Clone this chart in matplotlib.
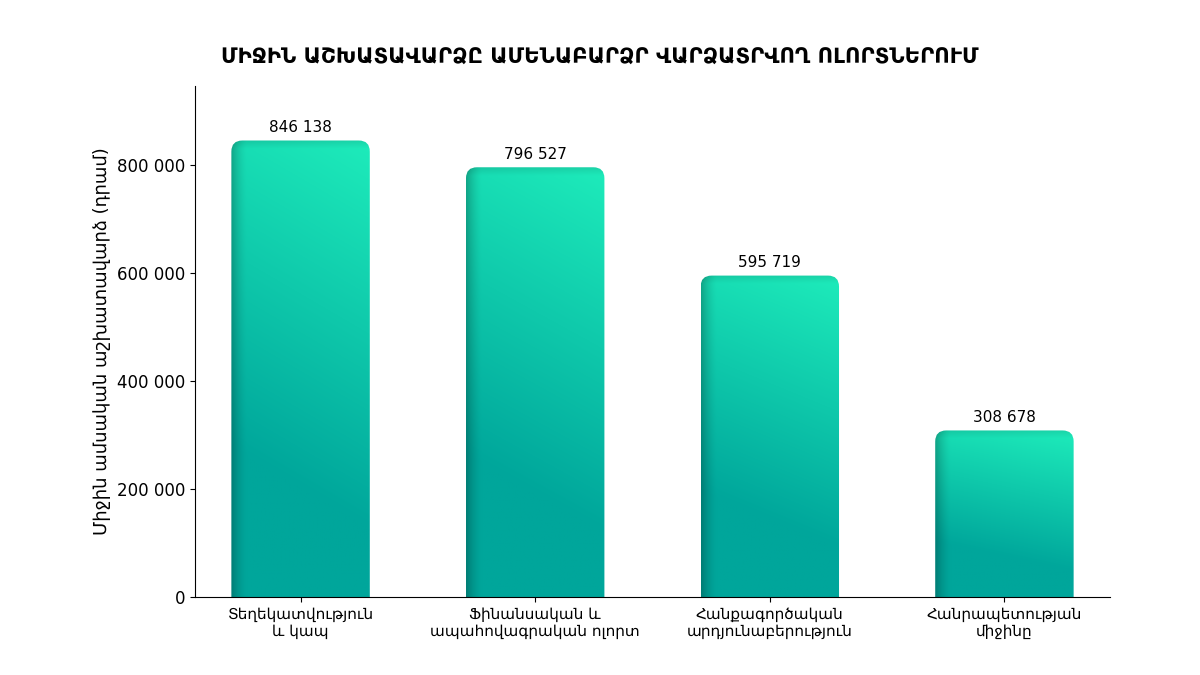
import numpy as np
import matplotlib
matplotlib.use('Agg')
from matplotlib import pyplot as plt
from matplotlib.patches import FancyBboxPatch
from matplotlib.ticker import FuncFormatter


categories = ['Տեղեկատվություն\nև կապ',
              'Ֆինանսական և\nապահովագրական ոլորտ',
              'Հանքագործական\nարդյունաբերություն',
              'Հանրապետության\nմիջինը']
values = [846138, 796527, 595719, 308678]

title = 'ՄԻՋԻՆ ԱՇԽԱՏԱՎԱՐՁԸ ԱՄԵՆԱԲԱՐՁՐ ՎԱՐՁԱՏՐՎՈՂ ՈԼՈՐՏՆԵՐՈՒՄ'
ylabel = 'Միջին ամսական աշխատավարձ (դրամ)'

top_color = np.array([0x1e, 0xec, 0xbb]) / 255.0
bottom_color = np.array([0x00, 0xa6, 0x9b]) / 255.0


def space_fmt(v, pos):
    return f'{int(v):,}'.replace(',', ' ')


def bar_image(h_px, w_px, rows=300, cols=120):
    u = np.linspace(0, 1, cols)[None, :]
    v = np.linspace(1, 0, rows)[:, None]  # row 0 = top
    s = np.clip((v * 0.85 + u * 0.15 - 0.28) / 0.72, 0, 1)
    img = bottom_color[None, None, :] * (1 - s[..., None]) + top_color[None, None, :] * s[..., None]
    # dark left edge
    lx = u * w_px
    left = 1 - 0.24 * np.clip(1 - lx / 16.0, 0, 1) ** 1.6
    # slight dark top edge
    ty = (1 - v) * h_px
    top = 1 - 0.10 * np.clip(1 - ty / 8.0, 0, 1)
    img = img * (left * top)[..., None]
    return np.clip(img, 0, 1)


fig = plt.figure(figsize=(12, 6.75), dpi=100)
ax = fig.add_axes([0.1625, 0.1156, 0.7625, 0.7574])

ymax = max(values) * 1.12
x = np.arange(len(categories))
width = 0.59
ax.set_xlim(-0.45, len(categories) - 0.55)
ax.set_ylim(0, ymax)

# pixel scales for rounding
fig.canvas.draw()
bbox = ax.get_window_extent()
px_per_x = bbox.width / (ax.get_xlim()[1] - ax.get_xlim()[0])
px_per_y = bbox.height / ymax
radius_px = 11
aspect = px_per_x / px_per_y

for xi, val in zip(x, values):
    x0 = xi - width / 2
    patch = FancyBboxPatch((x0, -ymax * 0.1), width, val + ymax * 0.1,
                           boxstyle=f'round,pad=0,rounding_size={radius_px / px_per_x}',
                           mutation_aspect=aspect,
                           facecolor='none', edgecolor='none', transform=ax.transData)
    ax.add_patch(patch)
    img = bar_image(val * px_per_y, width * px_per_x)
    im = ax.imshow(img, extent=[x0, x0 + width, 0, val], aspect='auto',
                   interpolation='bilinear', zorder=2)
    im.set_clip_path(patch)
    ax.annotate(space_fmt(val, None), (xi, val), xytext=(0, 4),
                textcoords='offset points', ha='center', va='bottom', fontsize=11)

ax.set_xlim(-0.45, len(categories) - 0.55)
ax.set_ylim(0, ymax)
ax.set_xticks(x)
ax.set_xticklabels(categories, fontsize=11)
ax.yaxis.set_major_locator(plt.MultipleLocator(200000))
ax.yaxis.set_major_formatter(FuncFormatter(space_fmt))
ax.tick_params(axis='y', labelsize=12)
ax.set_ylabel(ylabel, fontsize=13)
ax.spines['top'].set_visible(False)
ax.spines['right'].set_visible(False)

fig.suptitle(title, x=0.5, y=0.914, va='center', fontsize=15.3, fontweight='bold')

fig.savefig('out.png', dpi=100)
